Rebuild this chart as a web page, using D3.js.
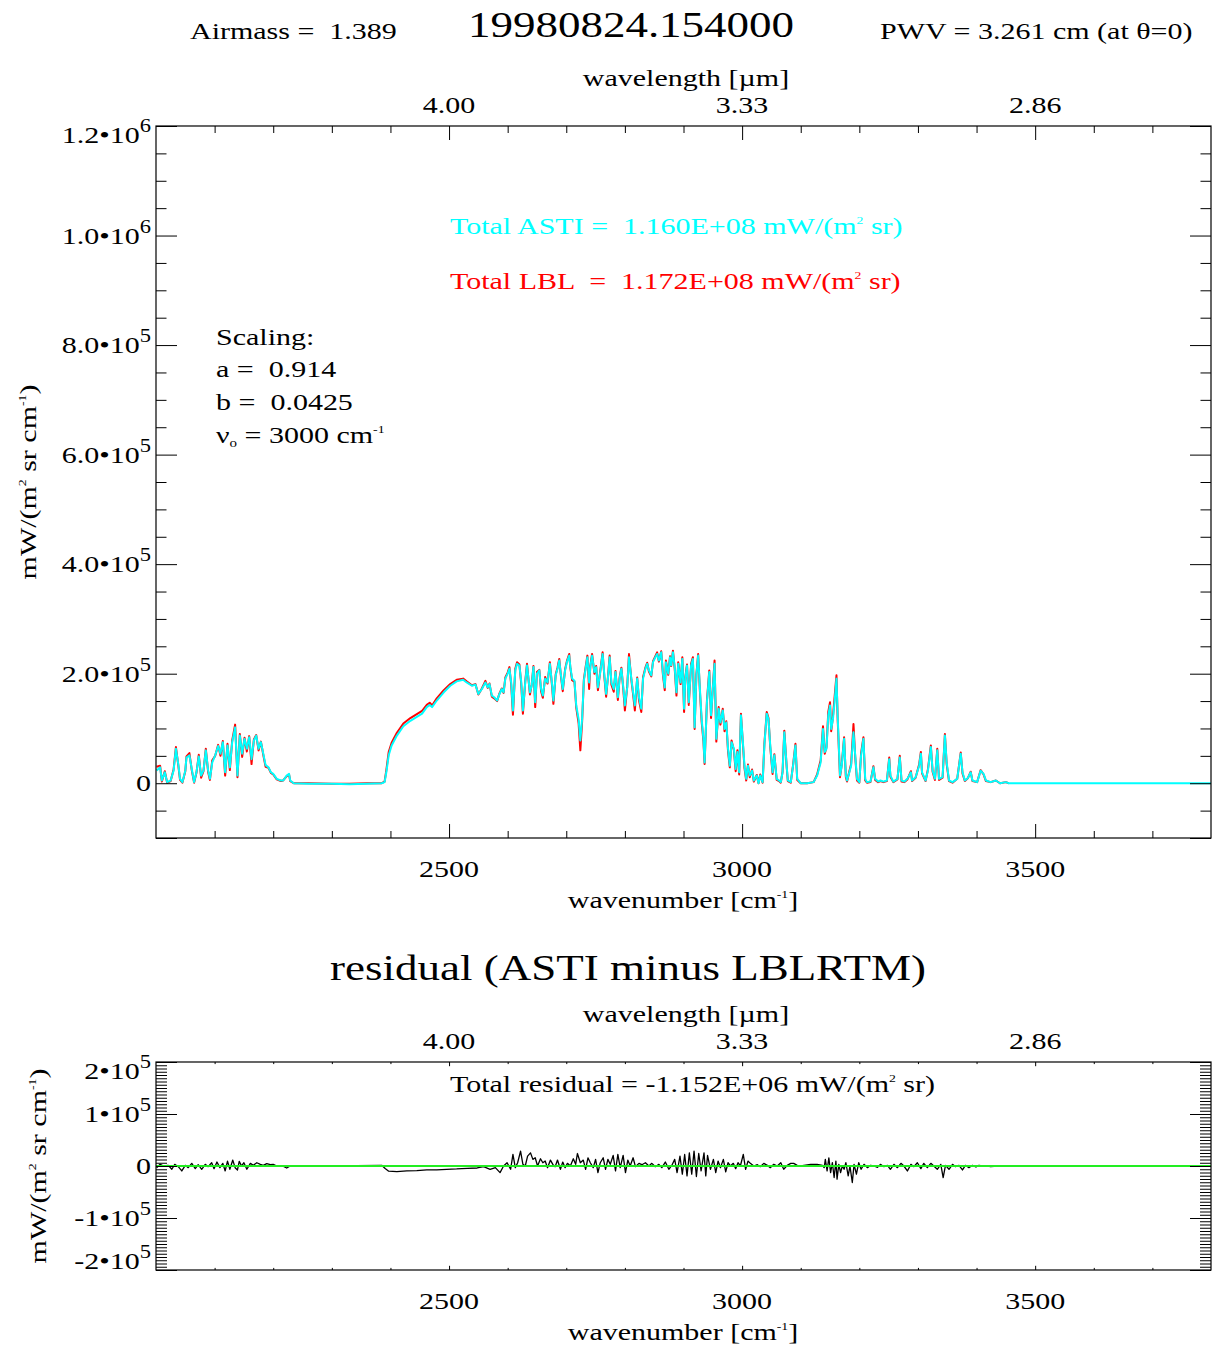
<!DOCTYPE html>
<html><head><meta charset="utf-8">
<script src="https://cdn.jsdelivr.net/npm/d3@7"></script>
<style>
html,body{margin:0;padding:0;background:#fff;}
svg{display:block;}
text{font-family:"Liberation Serif","Times New Roman",serif;white-space:pre;}
</style></head><body>
<svg id="c" width="1212" height="1349"></svg>
<script>
// ---- data (radiance values in units of 1e3 mW/(m2 sr cm-1)) ----
const astiSpectrum = [
[2001,23],[2007,29],[2010,5],[2015,20],[2019,2],[2025,5],[2030,23],[2034,63],[2038,35],[2041,8],
[2045,2],[2050,23],[2052,47],[2057,51],[2061,26],[2065,2],[2069,20],[2073,49],[2077,14],[2081,23],
[2085,60],[2089,23],[2092,8],[2096,38],[2101,51],[2106,68],[2110,54],[2114,75],[2118,20],[2122,69],
[2126,29],[2130,75],[2135,102],[2139,14],[2143,87],[2147,54],[2151,81],[2155,63],[2159,84],[2163,44],
[2167,78],[2171,87],[2175,63],[2179,75],[2183,54],[2187,33],[2192,29],[2196,20],[2200,17],[2206,8],
[2213,5],[2217,5],[2223,14],[2227,17],[2229,5],[2235,0],[2260,-1],[2300,-1],[2330,-2],[2360,-1],
[2385,0],[2390,2],[2393,20],[2397,51],[2402,69],[2411,87],[2422,104],[2434,114],[2445,121],[2454,127],
[2462,139],[2467,143],[2471,139],[2479,151],[2491,166],[2502,178],[2513,186],[2524,189],[2530,184],[2539,178],
[2545,180],[2550,163],[2556,172],[2562,184],[2566,175],[2569,181],[2573,160],[2577,157],[2582,151],[2586,163],
[2590,172],[2593,166],[2596,191],[2600,200],[2603,209],[2606,184],[2609,133],[2613,206],[2616,218],[2620,215],
[2623,187],[2626,133],[2630,184],[2633,215],[2638,166],[2641,178],[2644,212],[2647,148],[2650,200],[2654,206],
[2657,172],[2660,160],[2664,191],[2668,184],[2672,218],[2676,178],[2678,151],[2682,197],[2685,209],[2688,224],
[2691,197],[2694,172],[2698,206],[2701,221],[2705,233],[2707,212],[2710,191],[2714,187],[2717,142],[2721,117],
[2724,78],[2727,117],[2730,187],[2733,209],[2736,230],[2739,184],[2741,212],[2744,233],[2748,203],[2751,212],
[2754,175],[2758,203],[2762,236],[2765,197],[2768,163],[2771,191],[2774,230],[2777,184],[2781,172],[2784,203],
[2788,157],[2791,191],[2794,209],[2797,178],[2800,142],[2804,175],[2807,230],[2811,191],[2814,166],[2817,142],
[2821,191],[2824,157],[2828,136],[2831,191],[2835,209],[2838,218],[2841,206],[2845,197],[2848,221],[2852,230],
[2855,236],[2858,224],[2862,239],[2865,200],[2868,175],[2870,221],[2874,200],[2877,230],[2879,215],[2882,239],
[2885,212],[2888,166],[2891,218],[2895,184],[2898,227],[2901,136],[2903,191],[2906,215],[2909,148],[2913,215],
[2916,227],[2919,102],[2922,197],[2925,233],[2928,172],[2931,117],[2934,81],[2936,38],[2940,148],[2944,203],
[2947,124],[2950,172],[2953,218],[2956,81],[2960,136],[2963,111],[2967,133],[2970,99],[2973,111],[2976,63],
[2979,32],[2982,75],[2986,63],[2989,26],[2992,57],[2995,20],[2998,124],[3001,81],[3004,32],[3007,8],
[3010,32],[3013,14],[3017,23],[3020,5],[3025,14],[3028,0],[3031,14],[3035,2],[3038,69],[3042,127],
[3045,117],[3048,69],[3052,20],[3055,51],[3059,8],[3063,5],[3066,2],[3069,20],[3072,93],[3076,32],
[3078,5],[3083,2],[3087,32],[3091,69],[3094,8],[3100,0],[3111,0],[3122,2],[3128,14],[3134,38],
[3138,99],[3141,57],[3144,63],[3147,124],[3150,142],[3152,99],[3155,117],[3158,151],[3161,191],[3163,124],
[3167,14],[3170,32],[3174,81],[3177,14],[3179,5],[3183,20],[3186,32],[3190,93],[3193,51],[3196,8],
[3200,2],[3203,51],[3207,81],[3210,8],[3213,2],[3219,3],[3224,29],[3227,8],[3232,3],[3236,5],
[3241,3],[3247,5],[3251,44],[3253,14],[3258,3],[3265,8],[3269,47],[3272,5],[3277,3],[3282,8],
[3288,20],[3290,5],[3296,11],[3302,32],[3305,54],[3307,20],[3313,5],[3317,23],[3322,66],[3325,23],
[3329,8],[3333,60],[3336,8],[3342,11],[3346,87],[3349,38],[3353,5],[3359,2],[3367,8],[3373,54],
[3376,20],[3380,5],[3385,9],[3390,20],[3393,5],[3401,2],[3407,23],[3412,17],[3416,5],[3424,2],
[3433,5],[3440,0],[3450,2],[3455,0],[3500,0],[3600,0],[3700,0],[3800,0]
];
const lblSpectrum = [
[2001,30],[2007,32],[2010,3],[2015,22],[2019,1],[2025,4],[2030,25],[2034,66],[2038,33],[2041,6],
[2045,1],[2050,22],[2052,49],[2057,55],[2061,24],[2065,1],[2069,19],[2073,52],[2077,10],[2081,22],
[2085,63],[2089,20],[2092,6],[2096,42],[2101,50],[2106,70],[2110,50],[2114,77],[2118,14],[2122,72],
[2126,24],[2130,78],[2135,107],[2139,11],[2143,90],[2147,48],[2151,83],[2155,58],[2159,86],[2163,35],
[2167,80],[2171,88],[2175,60],[2179,76],[2183,52],[2187,30],[2192,28],[2196,19],[2200,16],[2206,7],
[2213,4],[2217,5],[2223,13],[2227,16],[2229,4],[2235,0],[2260,0],[2300,-1],[2330,-1],[2360,0],
[2385,0],[2390,3],[2393,24],[2397,57],[2402,74],[2411,92],[2422,109],[2434,119],[2445,126],[2454,132],
[2462,143],[2467,147],[2471,142],[2479,155],[2491,170],[2502,181],[2513,189],[2524,191],[2530,186],[2539,179],
[2545,181],[2550,162],[2556,173],[2562,187],[2566,174],[2569,182],[2573,158],[2577,155],[2582,150],[2586,164],
[2590,173],[2593,165],[2596,193],[2600,202],[2603,212],[2606,180],[2609,125],[2613,209],[2616,221],[2620,217],
[2623,183],[2626,127],[2630,186],[2633,218],[2638,162],[2641,180],[2644,214],[2647,139],[2650,203],[2654,207],
[2657,168],[2660,156],[2664,194],[2668,182],[2672,221],[2676,174],[2678,145],[2682,199],[2685,211],[2688,227],
[2691,194],[2694,168],[2698,208],[2701,223],[2705,236],[2707,210],[2710,188],[2714,185],[2717,138],[2721,110],
[2724,60],[2727,112],[2730,189],[2733,212],[2736,233],[2739,172],[2741,214],[2744,236],[2748,200],[2751,214],
[2754,170],[2758,205],[2762,239],[2765,194],[2768,158],[2771,193],[2774,233],[2777,180],[2781,167],[2784,205],
[2788,152],[2791,193],[2794,211],[2797,175],[2800,133],[2804,177],[2807,236],[2811,189],[2814,162],[2817,133],
[2821,193],[2824,152],[2828,130],[2831,194],[2835,211],[2838,220],[2841,204],[2845,195],[2848,223],[2852,232],
[2855,239],[2858,222],[2862,241],[2865,197],[2868,170],[2870,224],[2874,198],[2877,232],[2879,214],[2882,242],
[2885,209],[2888,160],[2891,221],[2895,181],[2898,230],[2901,130],[2903,193],[2906,217],[2909,143],[2913,218],
[2916,230],[2919,99],[2922,199],[2925,236],[2928,168],[2931,112],[2934,77],[2936,35],[2940,151],[2944,206],
[2947,119],[2950,174],[2953,224],[2956,76],[2960,139],[2963,107],[2967,136],[2970,95],[2973,113],[2976,58],
[2979,29],[2982,78],[2986,60],[2989,22],[2992,60],[2995,16],[2998,127],[3001,78],[3004,28],[3007,5],
[3010,34],[3013,11],[3017,25],[3020,3],[3025,15],[3028,0],[3031,16],[3035,1],[3038,72],[3042,130],
[3045,119],[3048,66],[3052,17],[3055,53],[3059,6],[3063,4],[3066,1],[3069,21],[3072,96],[3076,30],
[3078,4],[3083,1],[3087,34],[3091,72],[3094,6],[3100,0],[3111,0],[3122,2],[3128,16],[3134,42],
[3138,104],[3141,54],[3144,66],[3147,130],[3150,148],[3152,95],[3155,122],[3158,160],[3161,197],[3163,118],
[3167,11],[3170,34],[3174,84],[3177,11],[3179,3],[3183,22],[3186,35],[3190,108],[3193,48],[3196,5],
[3200,1],[3203,55],[3207,84],[3210,5],[3213,1],[3219,2],[3224,31],[3227,6],[3232,2],[3236,4],
[3241,2],[3247,4],[3251,47],[3253,12],[3258,2],[3265,7],[3269,50],[3272,3],[3277,2],[3282,7],
[3288,22],[3290,4],[3296,10],[3302,34],[3305,57],[3307,18],[3313,4],[3317,25],[3322,69],[3325,21],
[3329,6],[3333,63],[3336,6],[3342,10],[3346,90],[3349,35],[3353,4],[3359,1],[3367,8],[3373,56],
[3376,18],[3380,4],[3385,9],[3390,21],[3393,4],[3401,2],[3407,24],[3412,16],[3416,4],[3424,2],
[3433,5],[3440,0],[3450,2],[3455,0]
];
const residualSpectrum = [
[2001,-3.2],[2007,3.2],[2013,0],[2021,1.3],[2027,-6.3],[2032,3.2],[2038,-1.3],[2044,-9.5],[2050,1.3],[2055,-3.2],
[2061,5.1],[2067,-5.1],[2072,2.5],[2078,-6.3],[2084,3.2],[2089,-1.3],[2095,6.3],[2099,-5.1],[2104,7.6],[2109,-3.2],
[2114,5.1],[2118,-9.5],[2122,9.5],[2126,-6.3],[2131,11.4],[2135,-3.2],[2139,-7.6],[2142,8.9],[2146,0],[2150,6.3],
[2155,-6.3],[2161,5.1],[2166,1.3],[2172,6.3],[2178,3.2],[2183,1.3],[2189,4.4],[2195,2.5],[2200,3.2],[2206,0],
[2215,0.6],[2223,-3.8],[2229,0],[2300,0],[2385,1.3],[2391,-5],[2397,-10],[2411,-10.8],[2428,-9.5],[2445,-8.9],
[2462,-7.6],[2479,-7.6],[2496,-6.3],[2513,-5.7],[2531,-4.4],[2548,-3.8],[2559,-1.3],[2570,-6.3],[2579,-3.2],[2587,-12.7],
[2593,0],[2599,6.3],[2605,-6.3],[2609,22.2],[2613,-3.2],[2617,6.3],[2622,28.5],[2626,3.2],[2630,0],[2634,19],
[2639,25.3],[2643,12.7],[2647,15.8],[2651,0],[2656,13.9],[2660,6.3],[2664,9.5],[2668,-3.2],[2673,11.4],[2677,3.2],
[2681,-1.3],[2685,11.4],[2690,-6.3],[2694,7.6],[2698,-3.2],[2702,5.1],[2707,0],[2712,13.9],[2716,3.2],[2719,24],
[2724,6.3],[2729,11.4],[2733,-6.3],[2737,15.8],[2741,6.3],[2746,-3.2],[2750,12.7],[2754,-12.7],[2758,6.3],[2763,15.8],
[2767,-6.3],[2771,12.7],[2775,3.2],[2780,20.3],[2784,-9.5],[2788,22.2],[2792,-3.2],[2797,20.3],[2801,-12.7],[2805,11.4],
[2809,0],[2814,15.8],[2818,-1.3],[2824,5.1],[2829,2.5],[2835,6.3],[2841,0],[2846,5.1],[2852,-1.3],[2858,3.2],
[2863,-3.2],[2869,7.6],[2875,-6.3],[2881,3.2],[2885,12.7],[2889,-12.7],[2894,19],[2898,-15.8],[2902,22.2],[2906,-19],
[2910,25.3],[2914,-15.8],[2918,28.5],[2922,-20.3],[2926,24],[2930,-9.5],[2935,25.3],[2938,-19],[2941,20.3],[2946,-6.3],
[2951,12.7],[2955,-12.7],[2959,9.5],[2963,-3.2],[2968,12.7],[2972,-11.4],[2976,6.3],[2980,0],[2985,5.1],[2989,-5.1],
[2993,6.3],[2997,0],[3002,22.2],[3006,-6.3],[3010,9.5],[3014,5.1],[3020,0],[3026,2.5],[3031,-1.3],[3037,5.1],
[3043,1.3],[3048,-3.2],[3054,3.2],[3060,0],[3066,6.3],[3071,-6.3],[3077,1.3],[3083,5.1],[3088,5.1],[3094,1.3],
[3100,0],[3117,3.2],[3128,3.2],[3137,1.3],[3140,-3.2],[3142,12.7],[3145,-9.5],[3148,15.8],[3151,-12.7],[3154,6.3],
[3157,-22.2],[3160,9.5],[3162,-25.3],[3165,3.2],[3168,-12.7],[3171,0],[3174,-6.3],[3177,6.3],[3181,-19],[3184,0],
[3188,-31.7],[3191,3.2],[3195,-15.8],[3199,6.3],[3203,-6.3],[3208,3.2],[3214,-3.2],[3219,1.3],[3225,0],[3231,-2.5],
[3236,3.2],[3242,-1.3],[3248,1.3],[3253,-6.3],[3259,3.2],[3265,-3.2],[3271,5.1],[3276,0],[3282,-9.5],[3288,3.2],
[3293,-1.3],[3299,6.3],[3305,-5.1],[3310,5.1],[3316,-3.2],[3322,5.1],[3327,0],[3333,-6.3],[3339,3.2],[3343,-22.2],
[3347,1.3],[3353,-6.3],[3359,3.2],[3364,-1.3],[3370,1.3],[3376,-7.6],[3381,1.3],[3387,-3.2],[3393,1.3],[3399,-1.9],
[3404,1.3],[3410,0],[3419,0],[3424,-1.3],[3436,0],[3600,0],[3800,0]
];
// ---- ticks / labels ----
const xMajorTicks = [2500, 3000, 3500];
const xMajorLabels = ["2500", "3000", "3500"];
const wavelengthLabels = ["4.00", "3.33", "2.86"];
const topYTicks = [0, 2e5, 4e5, 6e5, 8e5, 1e6, 1.2e6];
const topYMantissa = ["0", "2.0\u202210", "4.0\u202210", "6.0\u202210", "8.0\u202210", "1.0\u202210", "1.2\u202210"];
const topYExponent = ["", "5", "5", "5", "5", "6", "6"];
const resYTicks = [-2e5, -1e5, 0, 1e5, 2e5];
const resYMantissa = ["-2\u202210", "-1\u202210", "0", "1\u202210", "2\u202210"];
const resYExponent = ["5", "5", "", "5", "5"];

// ---- layout ----
const svg = d3.select("#c");
const L = 156, R = 1211;
const top1 = 126, bot1 = 838, top2 = 1062, bot2 = 1270;
const x = d3.scaleLinear().domain([2000, 3800]).range([L, R]);
const yT = d3.scaleLinear().domain([-1e5, 1.2e6]).range([bot1, top1]);
const yR = d3.scaleLinear().domain([-2e5, 2e5]).range([bot2, top2]);
const SX = 1.25;

function txt(xp, yp, anchor, size, parts, color, rot) {
  const t = svg.append("text")
    .attr("transform", `translate(${xp},${yp})` + (rot ? " rotate(-90)" : "") + ` scale(${SX},1)`)
    .attr("text-anchor", anchor).attr("font-size", size).attr("fill", color || "#000");
  parts.forEach(p => {
    if (typeof p === "string") t.append("tspan").text(p);
    else {
      const s = t.append("tspan").text(p.t);
      if (p.s) s.attr("font-size", p.s);
      if (p.dy) s.attr("dy", p.dy);
    }
  });
  return t;
}

const sq = [{t: "2", s: 11, dy: -10}];
const back = dy => ({t: "", dy: dy});

svg.append("defs").call(d => {
  d.append("clipPath").attr("id", "clip1").append("rect").attr("x", L).attr("y", top1).attr("width", R - L).attr("height", bot1 - top1);
  d.append("clipPath").attr("id", "clip2").append("rect").attr("x", L).attr("y", top2).attr("width", R - L).attr("height", bot2 - top2);
});

function drawAxes(yS, top, bot, xMaj, xMin, yMajorVals, yMinorVals, yMaj, yMin) {
  const strip = g => { g.select(".domain").remove(); g.selectAll("line").attr("stroke", "#000").attr("stroke-width", 1); };
  const minorX = d3.range(2100, 3800, 100).filter(v => !xMajorTicks.includes(v));
  svg.append("g").attr("transform", `translate(0,${bot})`).call(d3.axisBottom(x).tickValues(xMajorTicks).tickSize(-xMaj).tickFormat(() => "")).call(strip);
  svg.append("g").attr("transform", `translate(0,${bot})`).call(d3.axisBottom(x).tickValues(minorX).tickSize(-xMin).tickFormat(() => "")).call(strip);
  svg.append("g").attr("transform", `translate(0,${top})`).call(d3.axisTop(x).tickValues(xMajorTicks).tickSize(-xMaj).tickFormat(() => "")).call(strip);
  svg.append("g").attr("transform", `translate(0,${top})`).call(d3.axisTop(x).tickValues(minorX).tickSize(-xMin).tickFormat(() => "")).call(strip);
  svg.append("g").attr("transform", `translate(${L},0)`).call(d3.axisLeft(yS).tickValues(yMajorVals).tickSize(-yMaj).tickFormat(() => "")).call(strip);
  svg.append("g").attr("transform", `translate(${L},0)`).call(d3.axisLeft(yS).tickValues(yMinorVals).tickSize(-yMin).tickFormat(() => "")).call(strip);
  svg.append("g").attr("transform", `translate(${R},0)`).call(d3.axisRight(yS).tickValues(yMajorVals).tickSize(-yMaj).tickFormat(() => "")).call(strip);
  svg.append("g").attr("transform", `translate(${R},0)`).call(d3.axisRight(yS).tickValues(yMinorVals).tickSize(-yMin).tickFormat(() => "")).call(strip);
  svg.append("rect").attr("x", L).attr("y", top).attr("width", R - L).attr("height", bot - top)
    .attr("fill", "none").attr("stroke", "#000").attr("stroke-width", 1.2);
}

// ---- header ----
txt(190, 39, "start", 24, ["Airmass =  1.389"]);
txt(631, 37, "middle", 36, ["19980824.154000"]);
txt(880, 39, "start", 24, ["PWV = 3.261 cm (at \u03B8=0)"]);

// ---- top panel ----
const lineT = d3.line().defined(d => d[1] != null).x(d => x(d[0])).y(d => yT(d[1] * 1e3));
const g1 = svg.append("g").attr("clip-path", "url(#clip1)");
g1.append("path").datum(lblSpectrum).attr("d", lineT).attr("fill", "none").attr("stroke", "#ff0000").attr("stroke-width", 2).attr("stroke-linejoin", "round");
g1.append("path").datum(astiSpectrum).attr("d", lineT).attr("fill", "none").attr("stroke", "#00ffff").attr("stroke-width", 2).attr("stroke-linejoin", "round");

drawAxes(yT, top1, bot1, 14, 7,
  [-1e5].concat(topYTicks),
  d3.range(-5e4, 1.2e6, 5e4).filter(v => Math.round(v / 1e4) % 20 !== 0 && Math.round(v/1e4) !== -10),
  21, 10.5);

function yLabels(ticks, mant, expo, yS, top, bot) {
  ticks.forEach((v, i) => {
    let b = yS(v) + 8;
    b = Math.max(b, top + 17); b = Math.min(b, bot - 1);
    const parts = [mant[i]];
    if (expo[i]) parts.push({t: expo[i], s: 18, dy: -11});
    txt(151, b, "end", 24, parts);
  });
}
yLabels(topYTicks, topYMantissa, topYExponent, yT, top1, bot1);

xMajorTicks.forEach((v, i) => {
  txt(x(v), bot1 + 39, "middle", 24, [xMajorLabels[i]]);
  txt(x(v), top1 - 13, "middle", 24, [wavelengthLabels[i]]);
});
txt(686, top1 - 40, "middle", 24, ["wavelength [\u00B5m]"]);
txt(683, 908, "middle", 24, ["wavenumber [cm", {t: "-1", s: 11, dy: -10}, {t: "]", dy: 10}]);
txt(36, 482, "middle", 24, ["mW/(m", {t: "2", s: 11, dy: -10}, {t: " sr cm", dy: 10}, {t: "-1", s: 11, dy: -10}, {t: ")", dy: 10}], "#000", true);

txt(450, 234, "start", 24, ["Total ASTI =  1.160E+08 mW/(m", {t: "2", s: 11, dy: -10}, {t: " sr)", dy: 10}], "#00ffff");
txt(450, 289, "start", 24, ["Total LBL  =  1.172E+08 mW/(m", {t: "2", s: 11, dy: -10}, {t: " sr)", dy: 10}], "#ff0000");
txt(216, 345, "start", 24, ["Scaling:"]);
txt(216, 377, "start", 24, ["a =  0.914"]);
txt(216, 410, "start", 24, ["b =  0.0425"]);
txt(216, 443, "start", 24, ["\u03BD", {t: "o", s: 12, dy: 4}, {t: " = 3000 cm", dy: -4}, {t: "-1", s: 11, dy: -10}]);

// ---- residual panel ----
txt(628, 980, "middle", 36, ["residual (ASTI minus LBLRTM)"]);
const lineR = d3.line().x(d => x(d[0])).y(d => yR(d[1] * 1e3));
const g2 = svg.append("g").attr("clip-path", "url(#clip2)");
g2.append("path").datum(residualSpectrum).attr("d", lineR).attr("fill", "none").attr("stroke", "#000").attr("stroke-width", 1.3).attr("stroke-linejoin", "round");
g2.append("line").attr("x1", x(2000)).attr("x2", x(3800)).attr("y1", yR(0)).attr("y2", yR(0)).attr("stroke", "#22ee22").attr("stroke-width", 2);

drawAxes(yR, top2, bot2, 4.2, 2.1, resYTicks,
  d3.range(-2e5, 2e5, 6250).filter(v => Math.abs(v % 1e5) > 1),
  21, 11);
yLabels(resYTicks, resYMantissa, resYExponent, yR, top2, bot2);
xMajorTicks.forEach((v, i) => {
  txt(x(v), bot2 + 39, "middle", 24, [xMajorLabels[i]]);
  txt(x(v), top2 - 13, "middle", 24, [wavelengthLabels[i]]);
});
txt(686, top2 - 40, "middle", 24, ["wavelength [\u00B5m]"]);
txt(683, 1340, "middle", 24, ["wavenumber [cm", {t: "-1", s: 11, dy: -10}, {t: "]", dy: 10}]);
txt(46, 1166, "middle", 24, ["mW/(m", {t: "2", s: 11, dy: -10}, {t: " sr cm", dy: 10}, {t: "-1", s: 11, dy: -10}, {t: ")", dy: 10}], "#000", true);
txt(450, 1092, "start", 24, ["Total residual = -1.152E+06 mW/(m", {t: "2", s: 11, dy: -10}, {t: " sr)", dy: 10}]);
</script>
</body></html>
